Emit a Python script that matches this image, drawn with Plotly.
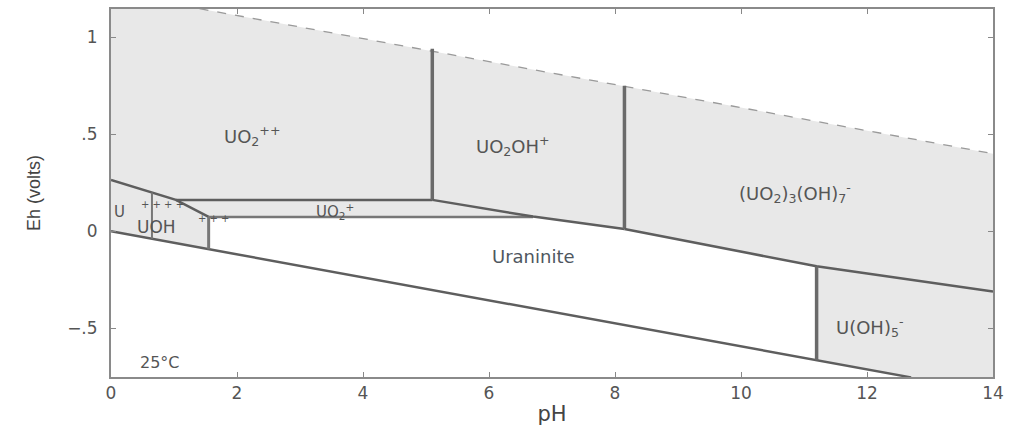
import plotly.graph_objects as go

# Water stability limits (Eh in volts vs pH)
water_ph = [0, 14]
upper_water_eh = [1.23, 0.40]
lower_water_ph = [0, 12.7]
lower_water_eh = [0.0, -0.752]

# Region boundaries (pH, Eh)
b_u4_upper_ph = [0, 1.03, 1.55]
b_u4_upper_eh = [0.265, 0.162, 0.074]
b_uo2p_top_ph = [1.03, 5.1]
b_uo2p_top_eh = [0.162, 0.162]
b_uo2p_bot_ph = [1.55, 6.7]
b_uo2p_bot_eh = [0.074, 0.074]
b_v51_ph = [5.1, 5.1]
b_v51_eh = [0.162, 0.94]
b_mid_ph = [5.1, 6.7, 8.15]
b_mid_eh = [0.162, 0.076, 0.012]
b_v815_ph = [8.15, 8.15]
b_v815_eh = [0.012, 0.75]
b_low_ph = [8.15, 11.2, 14]
b_low_eh = [0.012, -0.18, -0.31]
b_v112_ph = [11.2, 11.2]
b_v112_eh = [-0.18, -0.663]
b_v065_ph = [0.65, 0.65]
b_v065_eh = [0.20, -0.038]
b_v155_ph = [1.55, 1.55]
b_v155_eh = [0.074, -0.092]

# Uraninite (white) field
uran_ph = [1.55, 6.7, 8.15, 11.2, 11.2, 1.55]
uran_eh = [0.074, 0.074, 0.012, -0.18, -0.663, -0.092]

# Labels
lab_text = ["UO<sub>2</sub><sup>++</sup>", "UO<sub>2</sub>OH<sup>+</sup>",
            "(UO<sub>2</sub>)<sub>3</sub>(OH)<sub>7</sub><sup>-</sup>",
            "UO<sub>2</sub><sup>+</sup>", "U(OH)<sub>5</sub><sup>-</sup>",
            "25°C", "U", "+ + + +", "UOH", "+ + +"]
lab_ph = [2.24, 6.38, 10.86, 3.55, 12.05, 0.78, 0.14, 0.82, 0.73, 1.63]
lab_eh = [0.49, 0.44, 0.20, 0.10, -0.49, -0.677, 0.10, 0.138, 0.02, 0.068]
lab_size = [18, 18, 18, 15, 18, 16, 15, 10, 17, 10]

fig = go.Figure()

gray_fill = "#e8e8e8"
line_col = "#5e5e5e"
FONT = "DejaVu Sans"

# gray aqueous field between water lines
fig.add_trace(go.Scatter(
    x=[water_ph[0], water_ph[1], water_ph[1], lower_water_ph[0]],
    y=[upper_water_eh[0], upper_water_eh[1], -0.829, lower_water_eh[0]],
    fill="toself", fillcolor=gray_fill, line=dict(width=0), mode="lines",
    hoverinfo="skip", showlegend=False))

# uraninite white field
fig.add_trace(go.Scatter(x=uran_ph, y=uran_eh, fill="toself", fillcolor="white",
                         line=dict(width=0), mode="lines", hoverinfo="skip", showlegend=False))

def add_line(xs, ys, w=2.5, color=line_col, dash="solid"):
    fig.add_trace(go.Scatter(x=xs, y=ys, mode="lines",
                             line=dict(color=color, width=w, dash=dash),
                             hoverinfo="skip", showlegend=False))

add_line(water_ph, upper_water_eh, w=1.3, color="#9a9a9a", dash="dash")
add_line(lower_water_ph, lower_water_eh, w=2.5)
add_line(b_u4_upper_ph, b_u4_upper_eh, w=2.5)
add_line(b_uo2p_top_ph, b_uo2p_top_eh, w=2.5)
add_line(b_uo2p_bot_ph, b_uo2p_bot_eh, w=2.5, color="#777")
add_line(b_v51_ph, b_v51_eh, w=3.5, color="#6a6a6a")
add_line(b_mid_ph, b_mid_eh, w=2.5)
add_line(b_v815_ph, b_v815_eh, w=3.5, color="#6a6a6a")
add_line(b_low_ph, b_low_eh, w=2.5)
add_line(b_v112_ph, b_v112_eh, w=3.5, color="#6a6a6a")
add_line(b_v065_ph, b_v065_eh, w=2, color="#777")
add_line(b_v155_ph, b_v155_eh, w=3, color="#777")

for t, px, py, s in zip(lab_text, lab_ph, lab_eh, lab_size):
    fig.add_annotation(x=px, y=py, text=t, showarrow=False,
                       font=dict(size=s, color="#555", family=FONT))

fig.add_annotation(x=6.71, y=-0.13, text="Uraninite", showarrow=False,
                   font=dict(size=18, color="#4f5760", family=FONT))

fig.update_layout(
    width=1013, height=429,
    margin=dict(l=111, r=20, t=7, b=49),
    paper_bgcolor="white", plot_bgcolor="white",
    font=dict(family=FONT, color="#555"),
    xaxis=dict(range=[0, 14], tickvals=[0, 2, 4, 6, 8, 10, 12, 14],
               ticktext=["0", "2", "4", "6", "8", "10", "12", "14"],
               ticks="inside", ticklen=5, tickcolor="#888", mirror="ticks",
               showline=True, linecolor="#8a8a8a", linewidth=2, showgrid=False,
               zeroline=False, tickfont=dict(size=17, color="#555", family=FONT),
               title=dict(text="pH", font=dict(size=21, color="#444", family=FONT), standoff=4)),
    yaxis=dict(range=[-0.75, 1.145], tickvals=[-0.5, 0, 0.5, 1],
               ticktext=["\u2212.5", "0", ".5", "1"],
               ticks="inside", ticklen=5, tickcolor="#888", mirror="ticks",
               showline=True, linecolor="#8a8a8a", linewidth=2, showgrid=False,
               zeroline=False, tickfont=dict(size=17, color="#555", family=FONT),
               ticklabelstandoff=8,
               title=dict(text="Eh (volts)", font=dict(size=18, color="#444",
                          family="Liberation Sans"), standoff=22)),
)

fig.write_html("out.html", config={"displayModeBar": False},
               post_script="document.body.style.margin='0';")
